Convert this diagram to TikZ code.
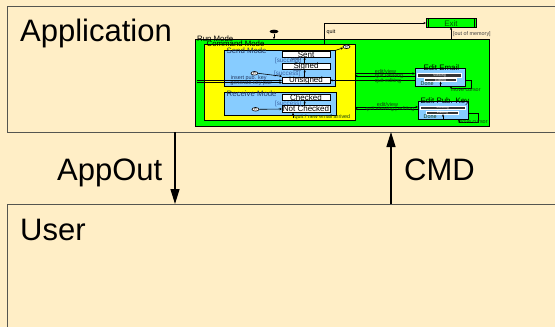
\documentclass[tikz,border=0pt]{standalone}
\usepackage{fontspec}
\setmainfont{Liberation Sans}
\usetikzlibrary{arrows.meta,shapes.geometric}
\definecolor{cream}{RGB}{255,238,198}
\definecolor{panelgray}{RGB}{85,85,80}
\definecolor{stgreen}{RGB}{0,255,0}
\definecolor{styellow}{RGB}{255,255,0}
\definecolor{stblue}{RGB}{135,204,255}
\definecolor{slate}{RGB}{35,55,95}
\definecolor{succblue}{RGB}{60,100,165}
\definecolor{lblgreen}{RGB}{20,60,20}
\definecolor{darkbar}{RGB}{55,55,55}
\definecolor{exitgreen}{RGB}{0,90,0}
\begin{document}
\begin{tikzpicture}[x=1pt,y=-1pt,
  panel/.style={draw=panelgray,line width=0.9pt,fill=cream,anchor=north west,inner sep=0pt,outer sep=0pt},
  bigtxt/.style={font=\fontsize{31}{31}\selectfont,inner sep=0pt,anchor=base west},
  bigarrow/.style={line width=1.3pt,-{Triangle[length=15pt,width=9pt]}},
  region/.style={draw=black,line width=0.8pt,anchor=north west,inner sep=0pt,outer sep=0pt},
  statebox/.style={draw=black,line width=0.6pt,fill=white,anchor=north west,inner sep=0pt,outer sep=0pt},
  barbox/.style={draw=white,line width=0.4pt,fill=darkbar,anchor=north west,inner sep=0pt,outer sep=0pt},
  statelbl/.style={font=\fontsize{8}{8}\selectfont,inner sep=0pt},
  titlelbl/.style={font=\fontsize{7.8}{7.8}\selectfont,inner sep=0pt,anchor=base west},
  tinylbl/.style={font=\fontsize{5.4}{5.4}\selectfont,inner sep=0pt,text=lblgreen},
  succlbl/.style={font=\fontsize{6.3}{6.3}\selectfont,inner sep=0pt,text=succblue},
  barlbl/.style={font=\fontsize{3.6}{3.6}\selectfont,inner sep=0pt,text=white},
  pseudo/.style={ellipse,draw=black,line width=0.6pt,fill=white,inner sep=0pt,minimum width=7pt,minimum height=3.6pt},
  tr/.style={line width=0.6pt,-{Stealth[length=2.6pt,width=2.2pt]}},
]
\useasboundingbox[fill=cream] (0,0) rectangle (555,327);

% ---- panels ----
\node[panel,minimum width=560pt,minimum height=126pt] (app) at (7,6) {};
\node[panel,minimum width=560pt,minimum height=140pt] (user) at (7,204) {};
\node[bigtxt] (apptxt) at (20,41.7) {Application};
\node[bigtxt] (usertxt) at (20,240) {User};
\node[bigtxt] (aotxt) at (57,180) {AppOut};
\node[bigtxt] (cmdtxt) at (404,180) {CMD};
\coordinate (aox) at (175,0);
\coordinate (cmx) at (391,0);
\draw[bigarrow] (app.south -| aox) -- (user.north -| aox);
\draw[bigarrow] (user.north -| cmx) -- (app.south -| cmx);

% ---- state machine ----
\node[region,fill=stgreen,minimum width=294pt,minimum height=86.7pt] (run) at (195,39.3) {};
\node[region,fill=styellow,minimum width=151pt,minimum height=75.6pt] (cmd) at (204,44.7) {};
\node[region,fill=stblue,minimum width=111pt,minimum height=35.5pt] (send) at (224,50.5) {};
\node[region,fill=stblue,minimum width=112pt,minimum height=22.6pt] (recv) at (224,92.7) {};
\node[titlelbl] (runt) at (197,41.1) {Run Mode};
\node[titlelbl] (cmdt) at (206.5,46.9) {Command Mode};
\node[titlelbl,text=slate] (sendt) at (226.5,53.8) {Send Mode};
\node[titlelbl,text=slate] (recvt) at (226.5,96) {Receive Mode};

\node[statebox,minimum width=48pt,minimum height=5.6pt] (sent) at (282,51.7) {};
\node[statebox,minimum width=48pt,minimum height=6.4pt] (signed) at (282,63.3) {};
\node[statebox,minimum width=48pt,minimum height=6pt] (unsigned) at (282,77.3) {};
\node[statebox,minimum width=48pt,minimum height=6pt] (checked) at (282,94.7) {};
\node[statebox,minimum width=48pt,minimum height=7.4pt] (notchecked) at (282,105.3) {};
\node[statelbl] (sentl) at (sent.center) {Sent};
\node[statelbl] (signedl) at (signed.center) {Signed};
\node[statelbl] (unsignedl) at (unsigned.center) {Unsigned};
\node[statelbl] (checkedl) at (checked.center) {Checked};
\node[statelbl] (notcheckedl) at (notchecked.center) {Not Checked};

\node[region,fill=stblue,minimum width=50pt,minimum height=17.7pt] (editemail) at (415,68.3) {};
\node[region,fill=stblue,minimum width=50pt,minimum height=17.7pt] (editkey) at (418,101.3) {};
\node[font=\fontsize{7.9}{7.9}\selectfont,inner sep=0pt,anchor=base] (eet) at (441.3,70.6) {Edit Email};
\node[font=\fontsize{7.9}{7.9}\selectfont,inner sep=0pt,anchor=base] (ekt) at (445,103.6) {Edit Pub. Key};
\node[barbox,minimum width=44pt,minimum height=3.6pt] (ema) at (417.5,73.6) {};
\node[barbox,minimum width=32pt,minimum height=3pt] (emb) at (424.6,78.6) {};
\node[barbox,minimum width=45pt,minimum height=3.4pt] (eka) at (420,106) {};
\node[barbox,minimum width=32pt,minimum height=3.2pt] (ekb) at (426.5,111) {};
\node[barlbl] (emal) at (ema.center) {Viewing};
\node[barlbl] (embl) at (emb.center) {Editing};
\node[barlbl] (ekal) at (eka.center) {Viewing};
\node[barlbl] (ekbl) at (ekb.center) {Editing};
\node[tinylbl,anchor=base west] (emd) at (420.5,85.3) {Done};
\node[tinylbl,anchor=base west] (ekd) at (423.5,118.2) {Done};

\node[region,fill=stgreen,line width=1pt,minimum width=50pt,minimum height=8.6pt] (exit) at (426,18.7) {};
\draw[line width=0.6pt] ([xshift=2.5pt]exit.north west) -- ([xshift=2.5pt]exit.south west);
\draw[line width=0.6pt] ([xshift=-2pt]exit.north east) -- ([xshift=-2pt]exit.south east);
\node[statelbl,text=exitgreen] (exitl) at ([yshift=-0.8pt]exit.center) {Exit};

% pseudo states
\node[ellipse,fill=black,inner sep=0pt,minimum width=9pt,minimum height=3.6pt] (init) at (274,31.5) {};
\node[pseudo] (hist) at (346.5,46.8) {};
\node[pseudo] (sinit) at (254.4,73.3) {};
\node[pseudo] (rinit) at (255.5,109.3) {};
\node[font=\fontsize{3.5}{3.5}\selectfont,inner sep=0pt] (histh) at (hist.center) {H};
\node[font=\fontsize{3.5}{3.5}\selectfont,inner sep=0pt] (sinith) at (sinit.center) {H};
\node[font=\fontsize{3.5}{3.5}\selectfont,inner sep=0pt] (rinith) at (rinit.center) {H};

% transitions
\draw[tr] (init) -- (init |- run.north);
\coordinate (qx) at (324.3,0);
\draw[tr] (cmd.north -| qx) |- (exit.west);
\node[tinylbl,anchor=base west,text=black] (quitl) at (326.5,33.8) {quit};
\coordinate (ox) at (451,0);
\draw[tr] (run.north -| ox) -- (exit.south -| ox);
\node[tinylbl,anchor=base west,text=darkgray] (ooml) at (453,35.8) {[out of memory]};
\draw[tr] (send.north east) -- (hist);

\coordinate (sx) at (304.7,0);
\draw[tr] (signed.north -| sx) -- (sent.south -| sx);
\draw[tr] (unsigned.north -| sx) -- (signed.south -| sx);
\draw[tr] (notchecked.north -| sx) -- (checked.south -| sx);
\node[succlbl] (s1) at (288.2,61.3) {[success]};
\node[succlbl] (s2) at (287.2,74) {[success]};
\node[succlbl] (s3) at (288.2,103.8) {[success]};
\node[tinylbl,text=slate,font=\fontsize{4.5}{4.5}\selectfont] (sendl) at (296,58.4) {send};
\node[tinylbl,text=slate,font=\fontsize{4.5}{4.5}\selectfont] (signl) at (297,70.8) {sign};

\draw[tr] (sinit.east) -- ([yshift=1pt]unsigned.north west);
\draw[tr] (rinit.east) -- (notchecked.west);
\coordinate (ipk) at (197,80.5);
\coordinate (gkp) at (197,82.7);
\draw[tr] (ipk) -- (unsigned.west |- ipk);
\draw[tr] (gkp) -- (unsigned.west |- gkp);
\node[tinylbl,text=slate,anchor=base west] (ipkl) at (230.7,79.6) {insert pub. key};
\node[tinylbl,text=slate,anchor=base west] (gkpl) at (230.2,84.0) {generate key pair};

\coordinate (nqe) at (293,117.5);
\draw[tr] (nqe) -- (notchecked.south -| nqe);
\node[tinylbl,anchor=base west] (nqel) at (294.5,118.3) {quit / new email arrived};

\coordinate (e1) at (0,73.5);
\coordinate (e2) at (0,76);
\coordinate (e3) at (0,80.3);
\draw[tr] (cmd.east |- e1) -- (editemail.west |- e1);
\draw[tr] (editemail.west |- e2) -- (cmd.east |- e2);
\draw[tr] (editemail.west |- e3) -- (unsigned.east |- e3);
\node[tinylbl] (ev1) at (385.5,71.4) {edit/view};
\node[tinylbl] (qv1) at (389,76.2) {quit viewing};
\node[tinylbl] (qe1) at (388,80.8) {quit editing};

\coordinate (k1) at (0,107);
\coordinate (k2) at (0,109);
\draw[tr] (cmd.east |- k1) -- (editkey.west |- k1);
\draw[tr] (editkey.west |- k2) -- (cmd.east |- k2);
\node[tinylbl] (ev2) at (387.5,104.3) {edit/view};
\node[tinylbl] (qv2) at (390,109.6) {quit viewing | editing};

\coordinate (l1) at (0,80);
\coordinate (l2) at (471.3,88.3);
\coordinate (l3) at (451,0);
\draw[tr] (editemail.east |- l1) -| (l2) -| (editemail.south -| l3);
\coordinate (ix) at (440.6,0);
\draw[tr] (editemail.south -| ix) -- (emb.south -| ix);
\node[tinylbl] (mc1) at (465.7,90.3) {move cursor};

\coordinate (m1) at (0,113.3);
\coordinate (m2) at (478.4,122);
\coordinate (m3) at (459,0);
\draw[tr] (editkey.east |- m1) -| (m2) -| (editkey.south -| m3);
\coordinate (jx) at (443,0);
\draw[tr] (editkey.south -| jx) -- (ekb.south -| jx);
\node[tinylbl] (mc2) at (472.7,122.3) {move cursor};
\end{tikzpicture}
\end{document}
